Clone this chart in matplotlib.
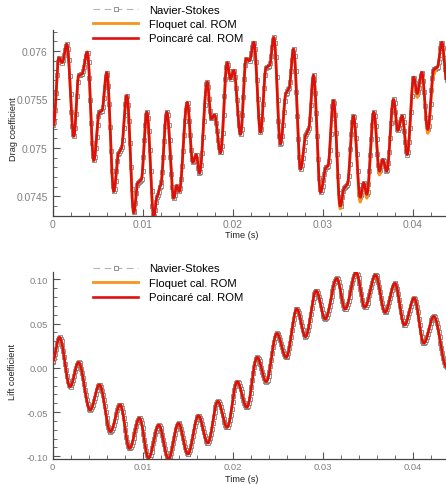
import numpy as np
import matplotlib
matplotlib.use("Agg")
import matplotlib.pyplot as plt
from matplotlib.ticker import FixedLocator, MultipleLocator

plt.rcParams["font.family"] = ["Liberation Sans", "DejaVu Sans"]

# ---- data (extrema / shoulders of each curve) ----
drag_t = [0.0, 0.00011, 0.0007, 0.00108, 0.00159, 0.00237, 0.00292, 0.00326, 0.00386,
          0.00459, 0.00522, 0.00548, 0.00603, 0.00681, 0.00737, 0.00763, 0.00826,
          0.00903, 0.00948, 0.00985, 0.01048, 0.01126, 0.01163, 0.0120, 0.0127,
          0.01348, 0.01381, 0.01408, 0.01497, 0.01559, 0.01597, 0.01633, 0.01719,
          0.01763, 0.0180, 0.01867, 0.01941, 0.01978, 0.02014, 0.02089, 0.02152,
          0.02189, 0.02237, 0.02311, 0.02374, 0.02411, 0.02459, 0.02533, 0.02597,
          0.02626, 0.02678, 0.02756, 0.02819, 0.02844, 0.0290, 0.02978, 0.03041,
          0.03059, 0.03122, 0.03197, 0.03244, 0.03274, 0.03344, 0.03419, 0.03459,
          0.03492, 0.0357, 0.03633, 0.0367, 0.03714, 0.03789, 0.03837, 0.03886,
          0.03941, 0.04014, 0.04052, 0.04103, 0.0417, 0.04237, 0.04274, 0.04326,
          0.0438]
drag_poincare = [0.07538, 0.07523, 0.07593, 0.07588, 0.07607, 0.07512, 0.07575, 0.07576,
                 0.07599, 0.07487, 0.07537, 0.07538, 0.07578, 0.07455, 0.07495, 0.07499,
                 0.07554, 0.07433, 0.07464, 0.07467, 0.07537, 0.07429, 0.07450, 0.07461,
                 0.07537, 0.07448, 0.07461, 0.07455, 0.07547, 0.07485, 0.07493, 0.07474,
                 0.07568, 0.07530, 0.07534, 0.07495, 0.07588, 0.07571, 0.07580, 0.07514,
                 0.07592, 0.07590, 0.07609, 0.07516, 0.07583, 0.07585, 0.07614, 0.07504,
                 0.07557, 0.07561, 0.07602, 0.07478, 0.07514, 0.07519, 0.07575, 0.07454,
                 0.07480, 0.07481, 0.07549, 0.07440, 0.07459, 0.07462, 0.07533, 0.07449,
                 0.07464, 0.07452, 0.07537, 0.07476, 0.07488, 0.07476, 0.07550, 0.07518,
                 0.07533, 0.07493, 0.07573, 0.07556, 0.07578, 0.07519, 0.07581, 0.07583,
                 0.07609, 0.07570]
# Floquet ROM differs from the Poincare ROM only at a few points
floquet_changes = [(59, 0.07437), (63, 0.07444), (65, 0.07448), (67, 0.07472),
                   (75, 0.07552), (77, 0.07515), (78, 0.07576)]
drag_floquet = list(drag_poincare)
for i, v in floquet_changes:
    drag_floquet[i] = v

lift_t = [0.0, 0.00078, 0.00196, 0.00289, 0.00419, 0.00522, 0.00644, 0.00752, 0.00856,
          0.00967, 0.01067, 0.01181, 0.01289, 0.0140, 0.01504, 0.01622, 0.01726,
          0.01837, 0.01941, 0.02052, 0.02159, 0.02274, 0.02374, 0.02493, 0.02596,
          0.02715, 0.02811, 0.0293, 0.0303, 0.03159, 0.03252, 0.03374, 0.0347,
          0.03589, 0.03696, 0.03804, 0.03911, 0.04019, 0.04126, 0.04237, 0.0438]
lift_rom = [0.007, 0.0345, -0.0213, 0.0062, -0.0476, -0.019, -0.0721, -0.0416, -0.091,
            -0.0567, -0.1019, -0.0646, -0.103, -0.0627, -0.0974, -0.054, -0.0849,
            -0.0378, -0.0672, -0.0156, -0.0446, 0.0119, -0.0156, 0.039, 0.0119,
            0.0665, 0.0352, 0.0872, 0.0552, 0.1011, 0.0665, 0.1079, 0.0684, 0.1049,
            0.0627, 0.0955, 0.0484, 0.0789, 0.028, 0.0582, 0.0010]

drag_ticks = [0.0745, 0.075, 0.0755, 0.076]
drag_ticklabels = ["0.0745", "0.075", "0.0755", "0.076"]
lift_ticks = [-0.10, -0.05, 0.0, 0.05, 0.10]
lift_ticklabels = ["-0.10", "-0.05", "0.00", "0.05", "0.10"]
time_ticks = [0.0, 0.01, 0.02, 0.03, 0.04]
time_ticklabels = ["0", "0.01", "0.02", "0.03", "0.04"]

labels = ["Navier-Stokes", "Floquet cal. ROM", "Poincaré cal. ROM"]


def smooth(tk, vk, t):
    # draw a smooth stroke through the read extrema
    tk = np.asarray(tk); vk = np.asarray(vk)
    i = np.clip(np.searchsorted(tk, t, side="right") - 1, 0, len(tk) - 2)
    s = (t - tk[i]) / (tk[i + 1] - tk[i])
    w = (1 - np.cos(np.pi * s)) / 2
    return vk[i] + (vk[i + 1] - vk[i]) * w


tt = np.linspace(0, 0.0438, 4381)

W, H = 446, 485
fig = plt.figure(figsize=(W / 100, H / 100), dpi=100)
ax1 = fig.add_axes([52.5 / W, 1 - 216.7 / H, (W - 52.5) / W, (216.7 - 30.7) / H])
ax2 = fig.add_axes([52.5 / W, 1 - 460 / H, (W - 52.5) / W, (460 - 273.3) / H])

ns_style = dict(linestyle=(0, (6, 4)), color="#b5b5b5", lw=0.8, marker="s", ms=3.2,
                mfc="white", mec="#666666", mew=0.5, markevery=10)

for ax, tk, pc, fq, yl, ticks, tlabels, minor, tick_fs, ylab, legy, xlab_y in [
    (ax1, drag_t, drag_poincare, drag_floquet, (0.07430, 0.07622), drag_ticks,
     drag_ticklabels, 0.0001, 7.4, "Drag coefficient", 5.5, -0.075),
    (ax2, lift_t, lift_rom, lift_rom, (-0.103, 0.108), lift_ticks,
     lift_ticklabels, 0.01, 6.8, "Lift coefficient", 264.5, -0.082),
]:
    l1, = ax.plot(tt, smooth(tk, pc, tt), zorder=2, **ns_style)
    l2, = ax.plot(tt, smooth(tk, fq, tt), color="#f7931e", lw=2.0, zorder=3)
    l3, = ax.plot(tt, smooth(tk, pc, tt), color="#dd1010", lw=1.9, zorder=4)
    ax.set_xlim(0, 0.04372)
    ax.set_ylim(*yl)
    ax.spines["top"].set_visible(False)
    ax.spines["right"].set_visible(False)
    for sp in ("left", "bottom"):
        ax.spines[sp].set_color("#444444")
        ax.spines[sp].set_linewidth(0.9)
    ax.xaxis.set_major_locator(FixedLocator(time_ticks))
    ax.set_xticklabels(time_ticklabels)
    ax.xaxis.set_minor_locator(MultipleLocator(0.002))
    ax.yaxis.set_major_locator(FixedLocator(ticks))
    ax.set_yticklabels(tlabels)
    ax.yaxis.set_minor_locator(MultipleLocator(minor))
    ax.tick_params(which="both", direction="in", color="#555555", labelcolor="#808080",
                   labelsize=tick_fs)
    ax.tick_params(which="major", length=5, width=0.8)
    ax.tick_params(which="minor", length=3, width=0.6)
    ax.tick_params(axis="x", pad=2.5)
    ax.tick_params(axis="y", pad=3.5)
    ax.set_xlabel("Time (s)", fontsize=6.6, color="#222222")
    ax.set_ylabel(ylab, fontsize=6.6, color="#222222")
    ax.xaxis.set_label_coords((242 - 52.5) / (W - 52.5), xlab_y)
    ax.yaxis.set_label_coords(-35 / (W - 52.5), 0.47)
    fig.legend([l1, l2, l3], labels, loc="upper left", frameon=False,
               bbox_to_anchor=(93 / W, 1 - legy / H), borderpad=0, borderaxespad=0,
               handlelength=4.0, handletextpad=1.0, labelspacing=0.4, numpoints=1,
               fontsize=8.1)

fig.savefig("out.png", dpi=100)
